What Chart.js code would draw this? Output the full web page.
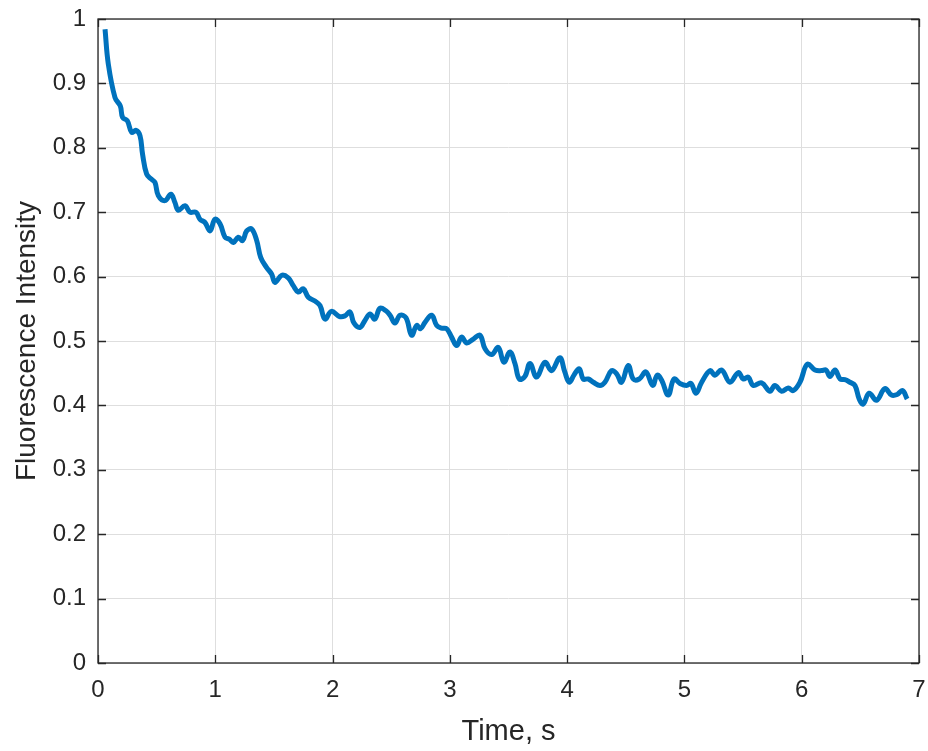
<!DOCTYPE html>
<html>
<head>
<meta charset="utf-8">
<script src="https://cdn.jsdelivr.net/npm/chart.js@4.4.1/dist/chart.umd.min.js"></script>
<style>
  html,body{margin:0;padding:0;background:#fff;}
  #wrap{width:928px;height:751px;}
</style>
</head>
<body>
<div id="wrap"><canvas id="fluoChart" width="928" height="751"></canvas></div>
<script>
// data
const times=[0.06,0.088,0.145,0.19,0.21,0.25,0.287,0.324,0.358,0.38,0.415,0.457,0.486,0.514,0.571,0.622,0.656,0.685,0.742,0.784,
  0.835,0.87,0.912,0.955,0.997,1.04,1.083,1.12,1.154,1.196,1.233,1.268,1.31,1.353,1.387,1.438,1.48,1.509,1.566,1.622,
  1.665,1.708,1.75,1.793,1.85,1.893,1.935,1.99,2.06,2.105,2.148,2.182,2.233,2.276,2.319,2.36,2.404,2.455,2.49,2.532,
  2.575,2.626,2.674,2.717,2.75,2.788,2.845,2.888,2.93,2.973,3.015,3.058,3.1,3.143,3.2,3.257,3.3,3.356,3.413,3.461,
  3.512,3.555,3.592,3.64,3.683,3.74,3.81,3.867,3.938,3.98,4.018,4.058,4.103,4.137,4.18,4.223,4.28,4.322,4.379,4.422,
  4.464,4.521,4.564,4.615,4.672,4.729,4.768,4.806,4.862,4.911,4.962,5.018,5.056,5.099,5.147,5.218,5.26,5.317,5.388,5.459,
  5.502,5.544,5.587,5.658,5.729,5.771,5.828,5.885,5.928,5.985,6.048,6.113,6.17,6.207,6.241,6.284,6.327,6.368,6.411,6.454,
  6.49,6.524,6.575,6.638,6.709,6.766,6.814,6.859,6.899];
const intensity=[0.984,0.93,0.878,0.865,0.847,0.842,0.824,0.827,0.819,0.79,0.759,0.751,0.746,0.726,0.718,0.728,0.715,0.703,0.71,0.70,
  0.70,0.689,0.684,0.671,0.689,0.682,0.661,0.658,0.653,0.661,0.656,0.671,0.674,0.656,0.63,0.614,0.604,0.591,0.602,0.598,
  0.586,0.576,0.581,0.568,0.562,0.555,0.534,0.546,0.538,0.539,0.545,0.528,0.521,0.532,0.542,0.534,0.551,0.547,0.54,0.528,
  0.54,0.536,0.509,0.524,0.519,0.529,0.54,0.524,0.52,0.519,0.506,0.493,0.506,0.497,0.503,0.509,0.488,0.479,0.49,0.467,
  0.483,0.465,0.441,0.445,0.465,0.444,0.467,0.454,0.474,0.452,0.436,0.447,0.457,0.441,0.441,0.436,0.431,0.436,0.454,0.449,
  0.436,0.462,0.441,0.441,0.452,0.431,0.447,0.439,0.416,0.441,0.434,0.431,0.434,0.419,0.436,0.454,0.447,0.455,0.436,0.451,
  0.441,0.444,0.431,0.435,0.422,0.431,0.422,0.427,0.423,0.436,0.464,0.455,0.454,0.455,0.445,0.455,0.441,0.44,0.436,0.431,
  0.41,0.402,0.419,0.408,0.426,0.416,0.417,0.423,0.41];
const xTicks=[0,1,2,3,4,5,6,7];
const yTicks=[0,0.1,0.2,0.3,0.4,0.5,0.6,0.7,0.8,0.9,1];

const axisCol='#262626';
const fontFam="'Liberation Sans', Arial, Helvetica, sans-serif";

// matlab-like box with inward ticks
const boxPlugin={
  id:'box',
  afterDraw(chart){
    const {ctx,chartArea:a,scales}=chart;
    ctx.save();
    ctx.strokeStyle=axisCol;
    ctx.lineWidth=1.3;
    ctx.strokeRect(a.left,a.top,a.right-a.left,a.bottom-a.top);
    const len=8;
    ctx.beginPath();
    xTicks.forEach(t=>{
      const px=Math.round(scales.x.getPixelForValue(t))+0.5;
      ctx.moveTo(px,a.bottom);ctx.lineTo(px,a.bottom-len);
      ctx.moveTo(px,a.top);ctx.lineTo(px,a.top+len);
    });
    yTicks.forEach(t=>{
      const py=Math.round(scales.y.getPixelForValue(t))+0.5;
      ctx.moveTo(a.left,py);ctx.lineTo(a.left+len,py);
      ctx.moveTo(a.right,py);ctx.lineTo(a.right-len,py);
    });
    ctx.stroke();
    ctx.restore();
  }
};

let chart=new Chart(document.getElementById('fluoChart'),{
  type:'line',
  data:{
    datasets:[{
      data:times.map((t,i)=>({x:t,y:intensity[i]})),
      borderColor:'#0072BD',
      borderWidth:5,
      pointRadius:0,
      tension:0.4,
      fill:false
    }]
  },
  options:{
    responsive:false,
    animation:false,
    layout:{padding:{top:19,right:9,left:0,bottom:0}},
    plugins:{legend:{display:false},tooltip:{enabled:false}},
    scales:{
      x:{
        type:'linear',min:0,max:7,
        afterFit(s){s.height=88;s.paddingLeft=0;s.paddingRight=0;},
        afterBuildTicks(s){s.ticks=xTicks.map(v=>({value:v}));},
        grid:{color:'#dedede',lineWidth:1,drawTicks:false},
        border:{display:false},
        ticks:{color:axisCol,font:{family:fontFam,size:24},padding:13,maxRotation:0,
          callback:v=>String(v)},
        title:{display:true,text:'Time, s',color:axisCol,font:{family:fontFam,size:29},padding:{top:0,bottom:2}}
      },
      y:{
        type:'linear',min:0,max:1,
        afterFit(s){s.width=98;s.paddingTop=0;s.paddingBottom=0;},
        afterBuildTicks(s){s.ticks=yTicks.map(v=>({value:v}));},
        grid:{color:'#dedede',lineWidth:1,drawTicks:false},
        border:{display:false},
        ticks:{color:axisCol,font:{family:fontFam,size:24},padding:12,
          callback:v=>String(+v.toFixed(1))},
        title:{display:true,text:'Fluorescence Intensity',color:axisCol,font:{family:fontFam,size:28},padding:{top:10,bottom:0}}
      }
    }
  },
  plugins:[boxPlugin]
});
</script>
</body>
</html>
